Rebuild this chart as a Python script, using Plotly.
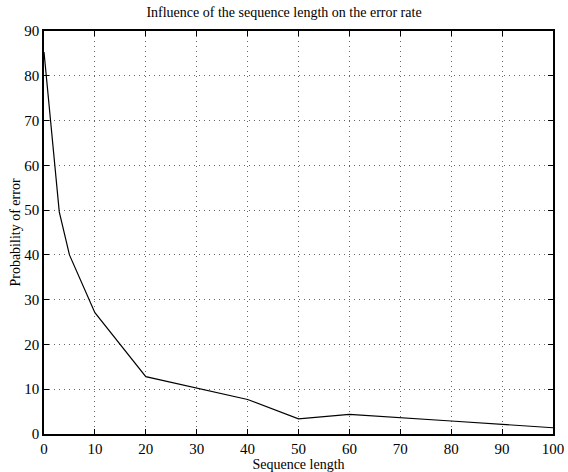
import plotly.graph_objects as go

# longitud de secuencia vs probabilidad de error
seq_len = [0, 3, 5, 10, 20, 40, 50, 60, 80, 100]
prob_err = [85.3, 49.6, 40.0, 27.1, 12.8, 7.7, 3.4, 4.4, 2.9, 1.4]

x_ticks = [0, 10, 20, 30, 40, 50, 60, 70, 80, 90, 100]
y_ticks = [0, 10, 20, 30, 40, 50, 60, 70, 80, 90]

fig = go.Figure()
fig.add_trace(go.Scatter(x=seq_len, y=prob_err, mode="lines",
                         line=dict(color="black", width=1.2)))

eje = dict(showline=True, linecolor="black", linewidth=1.5, mirror="ticks",
           ticks="inside", ticklen=5, tickcolor="black", automargin=False,
           showgrid=True, gridcolor="rgba(0,0,0,0.6)", griddash="1px,4px", gridwidth=1,
           zeroline=False, tickfont=dict(size=15, color="black"))

fig.update_layout(
    width=568, height=472,
    margin=dict(l=44, r=15, t=31, b=38),
    paper_bgcolor="white", plot_bgcolor="white",
    font=dict(family="Liberation Serif", color="black"),
    showlegend=False,
    title=dict(text="Influence of the sequence length on the error rate",
               x=0.5, xanchor="center", y=0.975, yanchor="middle",
               font=dict(size=14), automargin=False),
)
fig.update_xaxes(range=[0, 100], tickvals=x_ticks,
                 title=dict(text="Sequence length", font=dict(size=14), standoff=0), **eje)
fig.update_yaxes(range=[0, 90], tickvals=y_ticks,
                 title=dict(text="Probability of error", font=dict(size=14), standoff=0), **eje)

# quitar el margen por defecto del body para que la figura quede en (0,0)
fig.write_html("out.html", config={"displayModeBar": False},
               post_script="document.body.style.margin='0';document.body.style.overflow='hidden';")
